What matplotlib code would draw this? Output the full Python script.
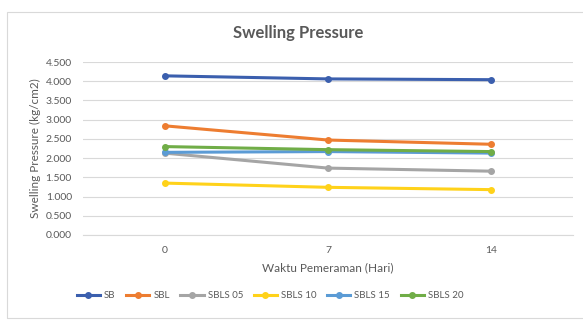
import matplotlib.pyplot as plt
from matplotlib.patches import Rectangle

plt.rcParams['font.family'] = ['Lato', 'DejaVu Sans']

# masa pemeraman (hari)
hari = ['0', '7', '14']

sb = [4.14, 4.06, 4.04]
sbl = [2.84, 2.47, 2.36]
sbls05 = [2.13, 1.74, 1.66]
sbls10 = [1.35, 1.24, 1.18]
sbls15 = [2.15, 2.17, 2.13]
sbls20 = [2.30, 2.22, 2.17]

seri = [
    ('SB', sb, '#3B5FAE'),
    ('SBL', sbl, '#ED7D31'),
    ('SBLS 05', sbls05, '#A5A5A5'),
    ('SBLS 10', sbls10, '#FFD21A'),
    ('SBLS 15', sbls15, '#5B9BD5'),
    ('SBLS 20', sbls20, '#70AD47'),
]

teks = '#595959'

fig = plt.figure(figsize=(5.83, 3.22), dpi=100)
fig.patches.append(Rectangle((7 / 583, 0.012), 0.99, 0.952, transform=fig.transFigure,
                             fill=False, edgecolor='#D9D9D9', linewidth=0.8))

ax = fig.add_axes([83 / 583, 1 - 235 / 322, (573 - 83) / 583, (235 - 62) / 322])

x = range(len(hari))
for nama, nilai, warna in seri:
    ax.plot(x, nilai, color=warna, linewidth=2.2, marker='o', markersize=4,
            label=nama)

ax.set_xlim(-0.5, 2.5)
ax.set_ylim(0, 4.5)
ax.set_yticks([i * 0.5 for i in range(10)])
ax.set_yticklabels([f'{i * 0.5:.3f}' for i in range(10)])
ax.set_xticks(list(x))
ax.set_xticklabels(hari)
ax.grid(axis='y', color='#D9D9D9', linewidth=0.8)
ax.set_axisbelow(True)
for s in ['top', 'right', 'left']:
    ax.spines[s].set_visible(False)
ax.spines['bottom'].set_color('#D9D9D9')
ax.tick_params(length=0, labelsize=7.5, colors=teks, pad=8)

fig.text(298 / 583, 1 - 33 / 322, 'Swelling Pressure', fontsize=12, fontweight='bold',
         color=teks, ha='center', va='center')
ax.set_xlabel('Waktu Pemeraman (Hari)', fontsize=8.5, color=teks, labelpad=5)
ax.set_ylabel('Swelling Pressure (kg/cm2)', fontsize=8.5, color=teks, labelpad=3)

fig.legend(loc='center', bbox_to_anchor=(270 / 583, 1 - 296 / 322), ncol=6,
           frameon=False, fontsize=7, labelcolor=teks, handlelength=2.4,
           columnspacing=1.1, handletextpad=0.4, borderpad=0)

fig.savefig('out.png', dpi=100)
